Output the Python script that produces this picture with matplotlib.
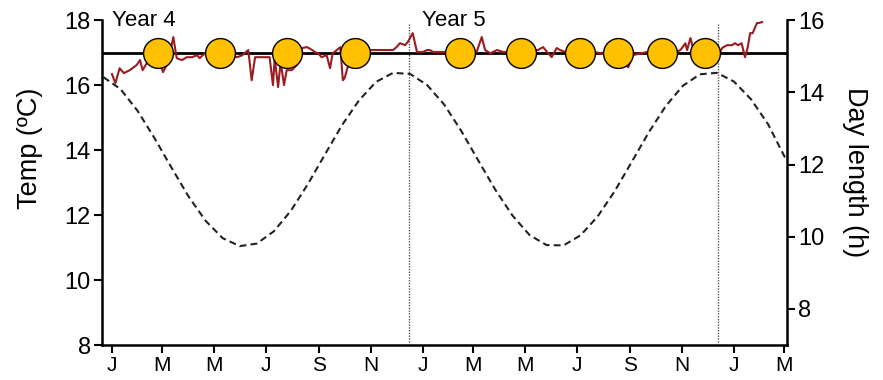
#!/usr/bin/env python
# Temperature and day length over two years, with sampling events at 17 C.

import matplotlib
matplotlib.use("Agg")
import matplotlib.pyplot as plt

plt.rcParams['font.family'] = ['Liberation Sans', 'DejaVu Sans']

# Days since 1 Jan of Year 4.
temp_day = [0, 4, 9, 14, 21, 29, 33, 36, 41, 47, 54, 60, 66, 72, 76, 82, 88,
            94, 100, 103, 109, 128, 147, 153, 160, 164, 168, 174, 183, 185,
            189, 191, 195, 198, 202, 205, 211, 217, 223, 229, 235, 238, 242,
            246, 252, 256, 259, 264, 268, 271, 273, 279, 293, 303, 315, 330,
            334, 338, 344, 347, 353, 358, 365, 370, 373, 377, 385, 408, 428,
            434, 438, 444, 452, 459, 480, 500, 506, 512, 516, 522, 526, 532,
            549, 567, 573, 585, 594, 606, 611, 628, 646, 663, 667, 669, 673,
            675, 679, 683, 696, 714, 716, 722, 728, 731, 735, 739, 743, 746,
            749, 752, 757, 759, 763]
temp_c = [16.34, 16.06, 16.52, 16.37, 16.46, 16.62, 16.77, 16.46, 16.68,
          16.77, 16.83, 16.40, 16.71, 17.48, 16.83, 16.77, 16.86, 16.86,
          16.92, 16.83, 16.98, 17.00, 16.86, 16.92, 17.08, 16.15, 16.86,
          16.86, 16.86, 16.86, 16.00, 16.83, 15.94, 16.71, 16.00, 16.46,
          16.46, 16.62, 17.14, 17.17, 17.08, 17.02, 16.98, 16.86, 16.92,
          16.52, 16.98, 17.08, 17.17, 16.15, 16.21, 16.77, 16.98, 17.08,
          17.08, 17.08, 17.17, 17.29, 17.23, 17.32, 17.60, 17.02, 17.02,
          17.08, 17.08, 17.02, 17.02, 17.02, 17.02, 17.48, 17.08, 16.98,
          17.08, 17.02, 17.02, 17.08, 17.17, 16.98, 16.86, 17.14, 17.08,
          17.02, 17.02, 17.02, 16.98, 16.92, 16.83, 16.55, 16.92, 17.02,
          17.02, 17.02, 17.08, 17.14, 17.29, 17.08, 17.45, 17.02, 17.02,
          17.02, 17.14, 17.23, 17.23, 17.29, 17.23, 17.29, 16.86, 17.14,
          17.60, 17.60, 17.91, 17.91, 17.94]

daylen_day = [-10, 10, 30, 50, 70, 90, 110, 130, 150, 170, 190, 210, 230,
              250, 270, 290, 310, 330, 350, 370, 390, 410, 430, 450, 470,
              490, 510, 530, 550, 570, 590, 610, 630, 650, 670, 690, 710,
              730, 750, 770, 792]
daylen_h = [14.42, 14.09, 13.49, 12.73, 11.91, 11.11, 10.44, 9.96, 9.74,
            9.81, 10.15, 10.72, 11.46, 12.28, 13.09, 13.78, 14.29, 14.54,
            14.51, 14.20, 13.66, 12.93, 12.11, 11.30, 10.59, 10.05, 9.77,
            9.76, 10.04, 10.56, 11.26, 12.07, 12.89, 13.62, 14.18, 14.50,
            14.54, 14.30, 13.81, 13.12, 12.10]

sample_day = [54, 127, 205, 285, 408, 480, 549, 594, 646, 696]
sample_temp = [17] * len(sample_day)

setpoint = 17
solstice_day = [349, 711]
year_labels = ["Year 4", "Year 5"]
year_label_day = [0, 364]

month_day = [0, 59, 120, 181, 243, 304, 365, 424, 485, 546, 608, 669, 730, 789]
month_labels = ["J", "M", "M", "J", "S", "N", "J", "M", "M", "J", "S", "N",
                "J", "M"]

fig = plt.figure(figsize=(8.83, 3.80), dpi=100)
ax = fig.add_axes([0.1155, 0.092, 0.7755, 0.855])
ax2 = ax.twinx()

ax.axhline(setpoint, color="black", linewidth=2, zorder=2)
ax.plot(temp_day, temp_c, color="#9b1b20", linewidth=1.5, zorder=3)
ax.plot(sample_day, sample_temp, linestyle="none", marker="o",
        markersize=21.5, markerfacecolor="#ffc000", markeredgecolor="black",
        markeredgewidth=1, zorder=4)
for d in solstice_day:
    ax.axvline(d, ymin=0.01, ymax=0.99, color="#555555", linewidth=1,
               linestyle=(0, (1, 1)), zorder=1)
for lab, d in zip(year_labels, year_label_day):
    ax.text(d, 18, lab, fontsize=16, ha="left", va="center", zorder=5)

ax2.plot(daylen_day, daylen_h, color="#222222", linewidth=1.5,
         linestyle=(0, (3.3, 2)))

ax.set_xlim(-11.7, 792)
ax.set_ylim(8, 18)
ax2.set_ylim(7, 16)
ax.set_yticks(range(8, 19, 2))
ax2.set_yticks(range(8, 17, 2))
ax.set_xticks(month_day)
ax.set_xticklabels(month_labels, fontsize=15)

# axis titles placed by hand, they sit off-centre in the original
fig.text(30 / 883, 1 - 148 / 380, "Temp (ºC)", fontsize=19.5, rotation=90,
         ha="center", va="center")
fig.text(855 / 883, 1 - 172 / 380, "Day length (h)", fontsize=19.5,
         rotation=270, ha="center", va="center")

for a in (ax, ax2):
    a.spines["top"].set_visible(False)
    for s in a.spines.values():
        s.set_linewidth(1.8)
    a.tick_params(axis="y", labelsize=17, width=1.5, length=6, pad=2)
    a.tick_params(axis="x", width=1.5, length=6, pad=2)
ax.spines["right"].set_visible(False)
ax2.spines["left"].set_visible(False)
ax2.spines["bottom"].set_visible(False)
ax.patch.set_visible(False)
ax.set_zorder(ax2.get_zorder() + 1)

fig.savefig("out.png", dpi=100)
